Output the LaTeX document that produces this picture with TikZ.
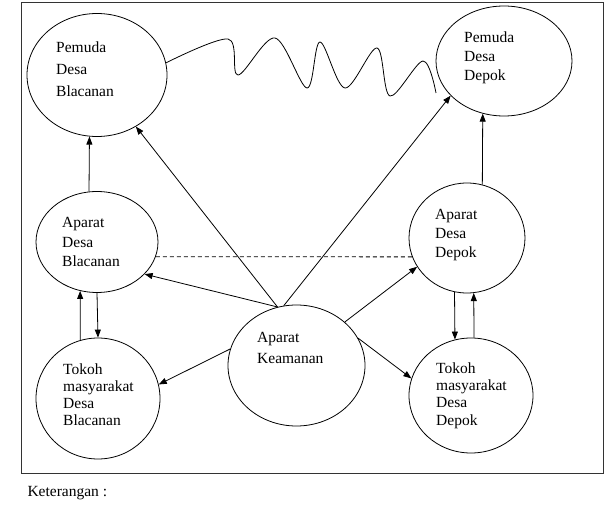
\documentclass[tikz,border=0pt]{standalone}
\usepackage{fontspec}
\setmainfont{Liberation Serif}
\usetikzlibrary{arrows.meta}
\usetikzlibrary{shapes.geometric}

\begin{document}
\begin{tikzpicture}
[x=1pt,y=-1pt,
  nodedecorate/.style={shape=ellipse,draw,line width=0.8pt,inner sep=0pt},%
  textdecorate/.style={anchor=north west,align=left,inner sep=0pt},%
  linedecorate/.style={-{Triangle[length=8pt,width=6pt]},line width=0.8pt},%
  dashdecorate/.style={-,line width=0.8pt,dash pattern=on 4pt off 3pt}]
\useasboundingbox (0,0) rectangle (608,505);
%% frame
\draw[line width=1pt,black!80] (21.5,2.5) rectangle (603,473);
%% nodes or vertices
\foreach \nodename/\x/\y/\w/\h in {pdb/97/75/140/123, pdd/504/61/136/110,
  adb/97/242/122/101, add/467/238/116/110, ak/296.5/365.5/137/121,
  tdb/98/398.5/124/121, tdd/471/395.5/124/115}
{
  \node (\nodename) at (\x,\y) [nodedecorate,minimum width=\w pt,minimum height=\h pt] {};
}
%% texts
\foreach \nodename/\x/\y/\lineskp/\words in {pdb/56/41.4/22/{Pemuda\\Desa\\Blacanan},
  pdd/464/31.4/19/{Pemuda\\Desa\\Depok}, adb/62/217.4/19.5/{Aparat\\Desa\\Blacanan},
  add/435/209.4/19/{Aparat\\Desa\\Depok}, ak/257/332.4/21/{Aparat\\Keamanan},
  tdb/63/363.4/17/{Tokoh\\masyarakat\\Desa\\Blacanan},
  tdd/436/362.4/17.3/{Tokoh\\masyarakat\\Desa\\Depok}}
{
  \node (t\nodename) at (\x,\y) [textdecorate,font=\fontsize{15.5}{\lineskp}\selectfont] {\words};
}
\node (keterangan) at (24,496) [anchor=base west,font=\fontsize{15.5}{18}\selectfont] {Keterangan :};
%% edges or lines
\path
\foreach \startnode/\endnode in {adb.99/pdb.263, ak.108/pdb.307, ak.102/pdd.213,
  add.74/pdd.248, ak.108/adb.326, ak.42/add.210, ak.166/tdb.13, ak.24/tdd.164,
  tdb.107/adb.251, adb.270/tdb.90, add.257/tdd.106, tdd.87/add.277}
{
  (\startnode) edge[linedecorate] (\endnode)
};
\draw[dashdecorate] (adb.346) -- (add.199);
%% wavy line
\coordinate (wavestart) at (pdb.10);
\coordinate (waveend) at (436,93);
\draw[line width=0.8pt] plot[smooth,tension=0.55] coordinates {(wavestart) (228,39)
  (238,75) (275,38) (307,88) (320,42) (345,88) (377,48) (390,96) (423,61) (waveend)};
\end{tikzpicture}
\end{document}
